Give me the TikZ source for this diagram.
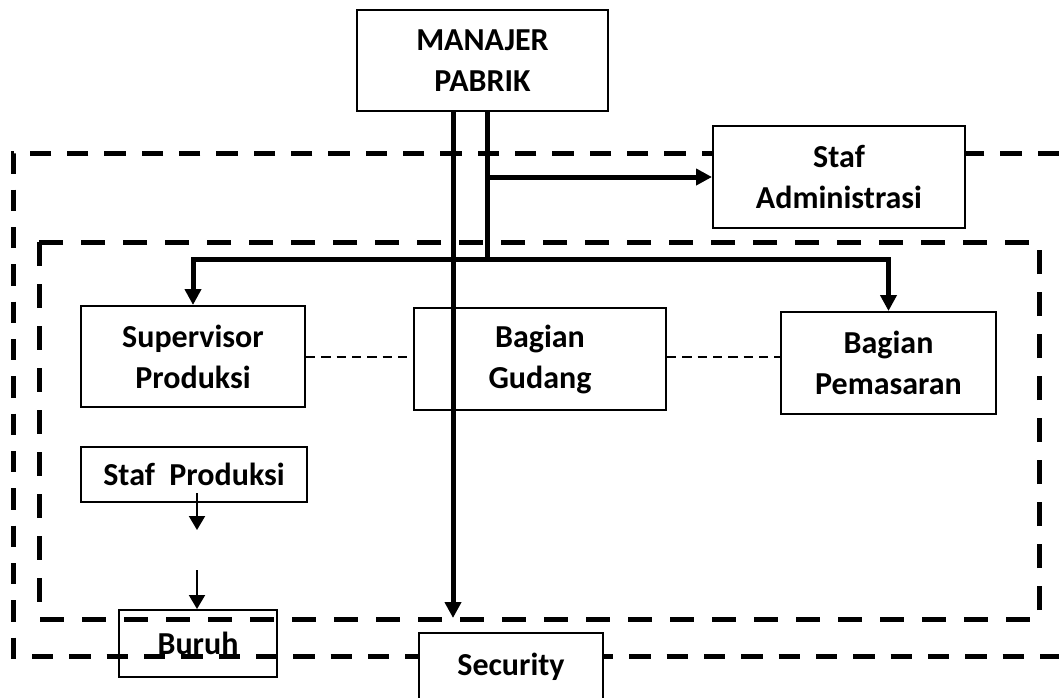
\documentclass[tikz,border=0pt]{standalone}
\usepackage{fontspec}
\setmainfont{Carlito}
\usepackage{tikz}
\usetikzlibrary{arrows.meta}

\begin{document}
\begin{tikzpicture}[x=0.75pt,y=-0.75pt,
    every node/.style={font=\fontsize{24}{30.75}\selectfont\bfseries},
    orgbox/.style={draw,line width=1.5pt,align=center,inner sep=0pt},
    zone/.style={line width=3.75pt,dash pattern=on 16pt off 12pt},
    innerzone/.style={line width=3.75pt,dash pattern=on 18pt off 13.5pt},
    mainline/.style={line width=3.75pt},
    mainarrow/.style={mainline,-{Triangle[length=12pt,width=12pt]}},
    thinarrow/.style={line width=1.5pt,-{Triangle[length=10.5pt,width=12pt]}},
    linkline/.style={line width=1.5pt,dash pattern=on 7pt off 4.5pt}]
    \useasboundingbox (0,0) rectangle (1059,697);
    \draw[zone] (1059,153) -- (13,153) -- (13,656) -- (1059,656);
    \draw[innerzone] (39,242) rectangle (1039,619);
    \node[orgbox,minimum width=188.25pt,minimum height=75.75pt] (manajer) at (482.5,60.5) {MANAJER\\PABRIK};
    \node[orgbox,fill=white,minimum width=189pt,minimum height=76.5pt] (admin) at (839,177) {Staf\\Administrasi};
    \node[orgbox,minimum width=168pt,minimum height=75.75pt] (supervisor) at (193,356.5) {Supervisor\\Produksi};
    \node[orgbox,minimum width=189pt,minimum height=76.5pt] (gudang) at (540,359) {Bagian\\Gudang};
    \node[orgbox,minimum width=161.25pt,minimum height=76.5pt] (pemasaran) at (888.5,363) {Bagian\\Pemasaran};
    \node[orgbox,minimum width=169.5pt,minimum height=41.25pt] (stafprod) at (194,474.5) {Staf~~Produksi};
    \node[orgbox,minimum width=118.5pt,minimum height=50.25pt] (buruh) at (198,643.5) {Buruh};
    \node[orgbox,fill=white,minimum width=138pt,minimum height=51pt] (security) at (511,667) {Security};
    \coordinate (split) at (487,259);
    \coordinate (drop) at (453,618);
    \coordinate (gaptop) at (197,530);
    \coordinate (gapbot) at (197,570);
    \draw[mainarrow] (manajer.south -| drop) -- (drop);
    \draw[mainline] (manajer.south -| split) -- (split);
    \draw[mainarrow] (split |- admin.west) -- (admin.west);
    \draw[mainarrow] (split) -| (supervisor.north);
    \draw[mainarrow] (split) -| (pemasaran.north);
    \draw[linkline] (supervisor.east) -- (supervisor.east -| gudang.west);
    \draw[linkline] (gudang.east |- supervisor.east) -- (pemasaran.west |- supervisor.east);
    \draw[thinarrow] (stafprod.south -| gaptop) ++(0,-10) -- (gaptop);
    \draw[thinarrow] (gapbot) -- (buruh.north -| gapbot);
\end{tikzpicture}
\end{document}
